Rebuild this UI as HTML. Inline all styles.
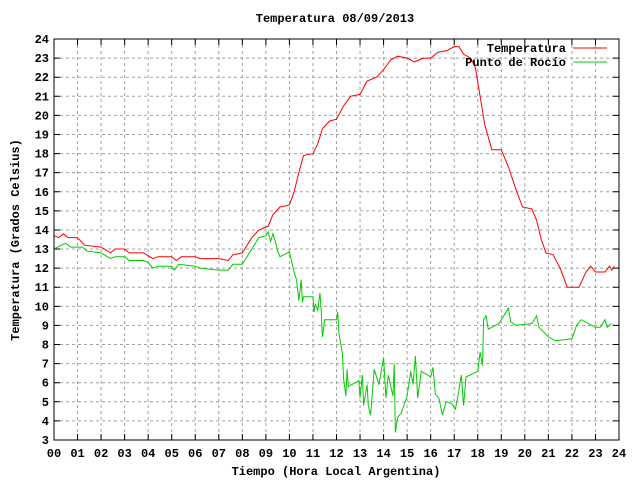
<!DOCTYPE html>
<html><head><meta charset="utf-8"><style>
body{margin:0;background:#fff}
svg text{font-family:"Liberation Mono",monospace;font-weight:bold;font-size:12px;fill:#000}
</style></head><body>
<svg id="c" width="640" height="480" viewBox="0 0 640 480" xmlns="http://www.w3.org/2000/svg">
<rect width="640" height="480" fill="#fff"/>
<text x="335" y="22" text-anchor="middle">Temperatura 08/09/2013</text>
<text x="336" y="475" text-anchor="middle">Tiempo (Hora Local Argentina)</text>
<text x="19" y="240" text-anchor="middle" transform="rotate(-90 19 240)">Temperatura (Grados Celsius)</text>
<g id="grid"></g>
<g id="series"></g>
<rect x="54" y="39" width="565" height="401" fill="none" stroke="#000" stroke-width="1"/>
<g>
<text x="566" y="52" text-anchor="end">Temperatura</text>
<line x1="573" y1="48" x2="607" y2="48" stroke="#f00"/>
<text x="566" y="66" text-anchor="end">Punto de Rocío</text>
<line x1="573" y1="62" x2="607" y2="62" stroke="#0c0"/>
</g>
</svg>
<script>
const xTicks=["00","01","02","03","04","05","06","07","08","09","10","11","12","13","14","15","16","17","18","19","20","21","22","23","24"];
const yTicks=[3,4,5,6,7,8,9,10,11,12,13,14,15,16,17,18,19,20,21,22,23,24];
const tempHours=[0,0.2,0.4,0.6,1.0,1.3,2.0,2.4,2.6,3.0,3.2,3.8,4.2,4.4,5.0,5.2,5.4,6.0,6.2,7.0,7.4,7.6,8.0,8.4,8.7,9.1,9.3,9.6,10.0,10.2,10.4,10.6,11.0,11.2,11.4,11.7,12.0,12.3,12.6,13.0,13.3,13.7,14.0,14.3,14.6,15.0,15.3,15.7,16.0,16.3,16.7,17.0,17.2,17.4,17.7,17.9,18.1,18.3,18.6,19.0,19.3,19.6,19.9,20.3,20.5,20.7,20.9,21.2,21.5,21.8,22.3,22.6,22.8,23.0,23.4,23.6,23.7,23.8];
const tempValues=[13.7,13.6,13.8,13.6,13.6,13.2,13.1,12.8,13.0,13.0,12.8,12.8,12.5,12.6,12.6,12.4,12.6,12.6,12.5,12.5,12.4,12.7,12.8,13.6,14.0,14.2,14.8,15.2,15.3,16.0,17.0,17.9,18.0,18.5,19.3,19.7,19.8,20.5,21.0,21.1,21.8,22.0,22.4,22.9,23.1,23.0,22.8,23.0,23.0,23.3,23.4,23.6,23.6,23.2,23.0,22.5,21.0,19.5,18.2,18.2,17.3,16.2,15.2,15.1,14.5,13.5,12.8,12.7,12.0,11.0,11.0,11.8,12.1,11.8,11.8,12.1,11.9,12.1];
const dewHours=[0,0.3,0.5,0.7,1.2,1.4,2.0,2.4,2.6,3.0,3.2,3.8,4.0,4.2,4.4,5.0,5.1,5.3,6.0,6.2,7.0,7.4,7.6,8.0,8.4,8.7,9.0,9.1,9.2,9.3,9.4,9.5,9.6,10.0,10.1,10.2,10.3,10.4,10.5,10.55,10.6,11.0,11.05,11.1,11.2,11.3,11.35,11.4,11.5,12.0,12.05,12.1,12.2,12.25,12.3,12.4,12.45,12.5,12.95,13.0,13.1,13.15,13.3,13.35,13.45,13.6,13.8,14.0,14.1,14.2,14.4,14.45,14.5,14.6,14.75,15.0,15.15,15.25,15.35,15.45,15.6,16.0,16.1,16.2,16.35,16.5,16.65,16.9,17.05,17.2,17.3,17.4,17.5,18.0,18.1,18.2,18.25,18.35,18.45,18.6,18.9,19.0,19.3,19.4,19.6,20.3,20.5,20.6,21.0,21.3,22.0,22.2,22.4,23.0,23.2,23.4,23.5,23.7];
const dewValues=[13.0,13.2,13.3,13.1,13.1,12.9,12.8,12.5,12.6,12.6,12.4,12.4,12.3,12.0,12.1,12.1,11.9,12.2,12.1,12.0,11.9,11.9,12.2,12.2,13.0,13.6,13.7,13.9,13.4,13.8,13.4,12.9,12.6,12.85,12.3,11.8,11.4,10.3,11.4,10.2,10.5,10.5,9.7,10.1,9.8,10.7,9.8,8.4,9.3,9.3,9.7,8.6,7.9,7.5,6.2,5.3,6.7,5.8,6.1,5.2,6.4,4.8,5.9,4.8,4.3,6.7,5.9,7.3,5.2,6.4,5.3,7.0,3.4,4.2,4.4,5.3,6.6,5.9,7.4,5.2,6.6,6.3,6.8,5.4,5.2,4.3,5.0,4.9,4.6,5.6,6.4,4.8,6.3,6.6,7.6,6.9,9.3,9.5,8.8,8.9,9.1,9.3,9.9,9.2,9.0,9.1,9.5,8.9,8.4,8.2,8.3,9.0,9.3,8.9,8.9,9.3,8.9,9.1];

const L=54,R=619,T=39,B=440,yMin=3,yMax=24;
const xs=h=>L+(R-L)*h/24;
const ys=v=>B-(B-T)*(v-yMin)/(yMax-yMin);
const NS="http://www.w3.org/2000/svg";
const grid=document.getElementById('grid'),series=document.getElementById('series');
function mk(tag,attrs,parent){const e=document.createElementNS(NS,tag);for(const k in attrs)e.setAttribute(k,attrs[k]);parent.appendChild(e);return e;}
xTicks.forEach((t,i)=>{const x=xs(i);
 if(i>0&&i<24){const g=mk('line',{x1:x,y1:T,x2:x,y2:B,stroke:'#a0a0a0','stroke-dasharray':'3,3'},grid);
 
 }
 const tk=mk('path',{d:`M${x} ${B}v-6M${x} ${T}v6`,stroke:'#000'},grid);
 
 
 const tx=mk('text',{x:x,y:B+17,'text-anchor':'middle'},grid);tx.textContent=t;
 
 
});
yTicks.forEach(v=>{const y=ys(v);
 if(v>yMin&&v<yMax){const g=mk('line',{x1:L,y1:y,x2:R,y2:y,stroke:'#a0a0a0','stroke-dasharray':'3,3'},grid);
 
 }
 const tk=mk('path',{d:`M${L} ${y}h6M${R} ${y}h-6`,stroke:'#000'},grid);
 
 
 const tx=mk('text',{x:L-5,y:y+4,'text-anchor':'end'},grid);tx.textContent=v;
 
 
});
function line(hs,vs,col,name){const d=hs.map((h,i)=>(i?'L':'M')+xs(h).toFixed(1)+' '+ys(vs[i]).toFixed(1)).join('');
 const p=mk('path',{d:d,fill:'none',stroke:col,'stroke-width':1},series);
 
 }
line(tempHours,tempValues,'#f00','temperatura-line');
line(dewHours,dewValues,'#0c0','punto-de-rocio-line');
</script>
</body></html>
